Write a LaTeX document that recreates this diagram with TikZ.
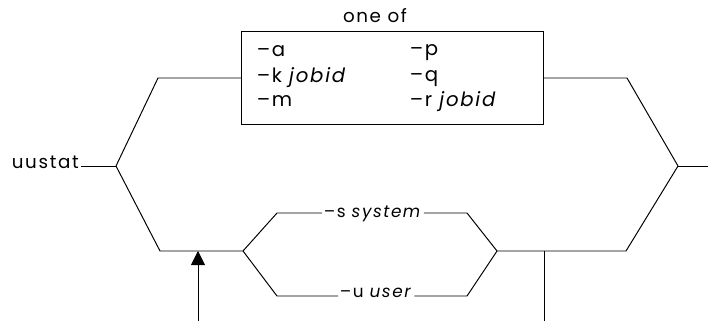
\documentclass[tikz,border=0pt]{standalone}
\usepackage{fontspec}
\setmainfont{Poppins}[LetterSpace=9]
\usetikzlibrary{arrows.meta, positioning}

\begin{document}
\begin{tikzpicture}[x=0.025cm, y=-0.025cm, line width=0.7pt,
    lbl/.style={inner sep=1pt, anchor=base west, font=\fontsize{12}{14}\selectfont},
    big/.style={font=\fontsize{13}{15}\selectfont},
    boxopt/.style={lbl, font=\fontsize{14}{16}\selectfont}]
    \useasboundingbox (0,0) rectangle (708,321);
    % command name and the outer fork
    \node[lbl, big] (cmd) at (10,169) {uustat};
    \coordinate (forkL) at (116,166);
    \coordinate (forkR) at (678,166);
    \coordinate (exit) at (708,166);
    \draw (cmd.east |- forkL) -- (forkL);
    \draw (forkR) -- (exit);
    % upper branch: the option box
    \node[draw, minimum width=7.525cm, minimum height=2.325cm] (box) at (392.5,78) {};
    \node[lbl, big, anchor=base] (oneof) at (375,23) {one of};
    \node[boxopt] (optA) at (255,57) {–a};
    \node[boxopt] (optK) at (255,83) {–k \textit{jobid}};
    \node[boxopt] (optM) at (255,107) {–m};
    \node[boxopt] (optP) at (408,56) {–p};
    \node[boxopt] (optQ) at (408,82) {–q};
    \node[boxopt] (optR) at (408,107) {–r \textit{jobid}};
    \coordinate (upL) at (158,78);
    \coordinate (upR) at (627,78);
    \draw (forkL) -- (upL) -- (box.west);
    \draw (box.east) -- (upR) -- (forkR);
    % lower branch: -s or -u
    \coordinate (loL) at (160,251);
    \coordinate (fork2) at (243,251);
    \coordinate (join2) at (497,251);
    \coordinate (loR) at (626,251);
    \node[lbl] (optS) at (322,217) {–s \textit{system}};
    \node[lbl] (optU) at (338,297) {–u \textit{user}};
    \coordinate (sL) at (277,213);
    \coordinate (sR) at (467,213);
    \coordinate (uL) at (277,296);
    \coordinate (uR) at (467,296);
    \draw (forkL) -- (loL) -- (fork2);
    \draw (fork2) -- (sL) -- (sL -| optS.west);
    \draw (sR -| optS.east) -- (sR) -- (join2);
    \draw (fork2) -- (uL) -- (uL -| optU.west);
    \draw (uR -| optU.east) -- (uR) -- (join2);
    \draw (join2) -- (loR) -- (forkR);
    % return arrow and drop line
    \coordinate (backBot) at (198,321);
    \coordinate (backTop) at (198,251);
    \draw[-{Triangle[length=10pt, width=10pt]}] (backBot) -- (backTop);
    \coordinate (dropTop) at (544,251);
    \coordinate (dropBot) at (544,321);
    \draw (dropTop) -- (dropBot);
\end{tikzpicture}
\end{document}
